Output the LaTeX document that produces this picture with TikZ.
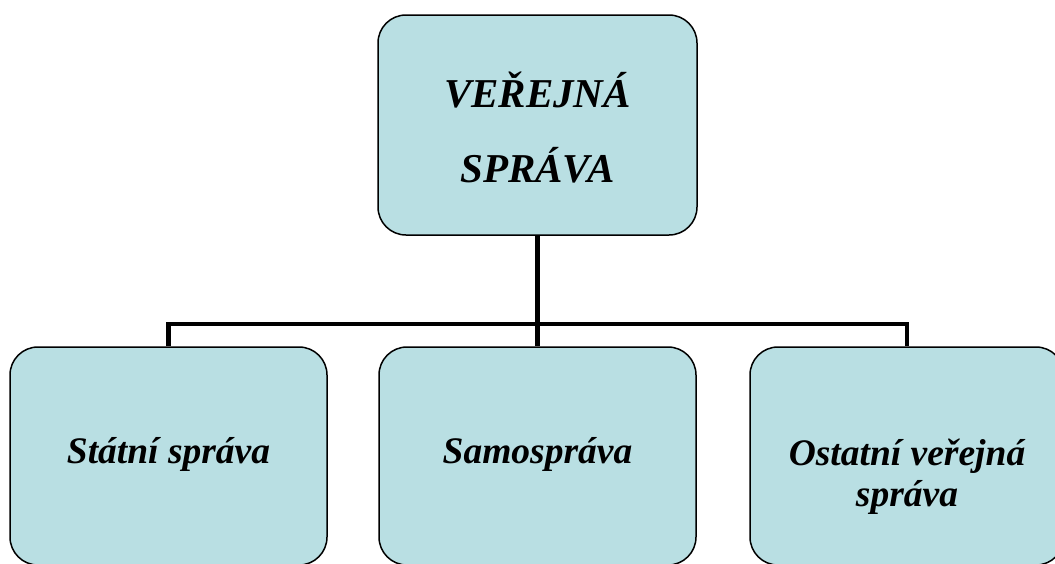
\documentclass[tikz,border=0pt]{standalone}
\usepackage{fontspec}
\setmainfont{Liberation Serif}
\definecolor{boxfill}{RGB}{185,223,227}
\tikzset{
  unit/.style={draw=black,line width=1.5pt,fill=boxfill,rounded corners=28pt,
    minimum width=317pt,minimum height=218pt,inner sep=0pt},
  boxtext/.style={align=center,inner sep=0pt,
    font=\fontsize{37.5}{41}\selectfont\bfseries\itshape},
  link/.style={line width=4.5pt}
}
\begin{document}
\begin{tikzpicture}[x=1pt,y=-1pt]
    \useasboundingbox (0,0) rectangle (1055,563);
    % boxes
    \node[unit,minimum width=319pt,minimum height=220pt] (top) at (537.5,125) {};
    \node[unit] (left) at (168.5,456) {};
    \node[unit] (mid) at (537.5,456) {};
    \node[unit,minimum width=314pt] (right) at (907,456) {};
    % connectors
    \coordinate (bar) at (537.5,324);
    \draw[link] (top.south) -- (mid.north);
    \draw[link] (left.north) |- (bar) -| (right.north);
    % texts
    \node[boxtext,font=\fontsize{41}{75}\selectfont\bfseries\itshape] (tTop) at (537.5,128) {VEŘEJNÁ\\SPRÁVA};
    \node[boxtext,anchor=base] (tLeft) at (168.5,463) {Státní správa};
    \node[boxtext,anchor=base] (tMid) at (537.5,463) {Samospráva};
    \node[boxtext] (tRight) at (907,477) {Ostatní veřejná\\správa};
\end{tikzpicture}
\end{document}
